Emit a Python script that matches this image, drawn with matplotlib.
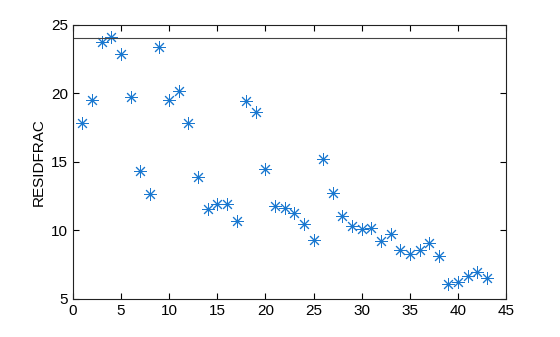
import numpy as np
import matplotlib.pyplot as plt

plt.rcParams['font.family'] = ['Liberation Sans', 'DejaVu Sans']

# residual fraction per iteration
iters = np.arange(1, 44)
residfrac = [17.85, 19.5, 23.75, 24.1, 22.9, 19.75, 14.35, 12.65, 23.4, 19.5,
             20.2, 17.85, 13.9, 11.6, 11.95, 11.95, 10.7, 19.45, 18.65, 14.5,
             11.8, 11.65, 11.3, 10.5, 9.3, 15.2, 12.75, 11.05, 10.35, 10.1,
             10.15, 9.2, 9.75, 8.6, 8.3, 8.55, 9.05, 8.1, 6.1, 6.2,
             6.7, 7.0, 6.5]
threshold = 24.05

fig = plt.figure(figsize=(5.6, 3.37), dpi=100)
ax = fig.add_axes([0.130, 0.113, 0.774, 0.813])

# matlab-style asterisk marker (8 arms)
ax.plot(iters, residfrac, linestyle='none', marker=(8, 2, 0), markersize=9,
        color='#1a78d0', markeredgewidth=0.7)
ax.axhline(threshold, color='#444444', linewidth=0.8)

ax.set_xlim(0, 45)
ax.set_ylim(5, 25)
ax.set_xticks(range(0, 46, 5))
ax.set_yticks(range(5, 26, 5))
ax.set_ylabel('RESIDFRAC', fontsize=11)
ax.tick_params(direction='in', top=True, right=True, labelsize=11, length=4)
for s in ax.spines.values():
    s.set_linewidth(0.8)
    s.set_color('#222222')

fig.savefig('out.png', dpi=100)
